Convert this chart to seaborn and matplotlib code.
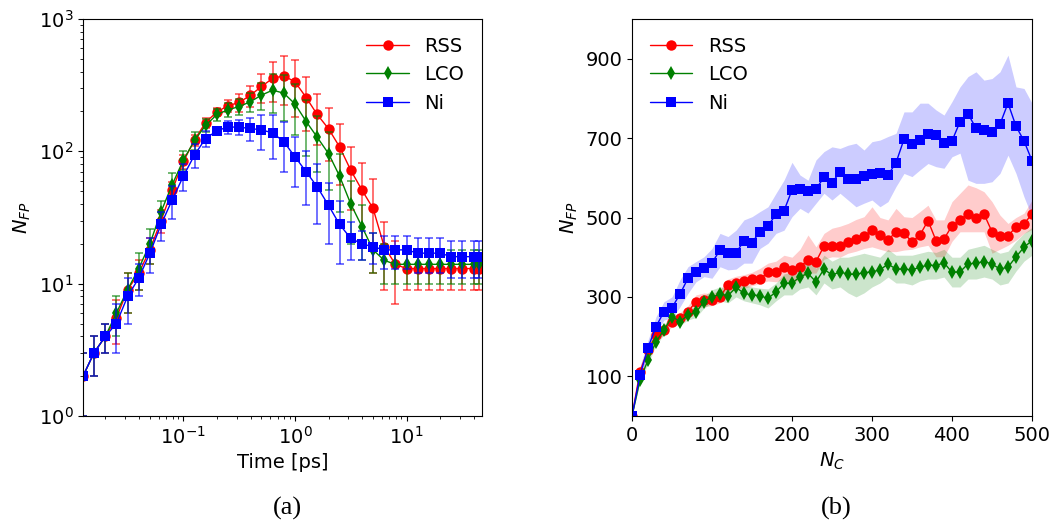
import matplotlib
matplotlib.use("Agg")
import matplotlib.pyplot as plt
import seaborn as sns
import numpy as np
import pandas as pd

# ---------------- Panel (a) data ----------------
time_ps = [0.0126, 0.0158, 0.02, 0.0251, 0.0316, 0.0398, 0.0501, 0.0631, 0.0794, 0.1,
           0.126, 0.158, 0.2, 0.251, 0.316, 0.398, 0.501, 0.631, 0.794, 1.0,
           1.26, 1.58, 2.0, 2.51, 3.16, 3.98, 5.01, 6.31, 7.94, 10.0,
           12.6, 15.8, 20.0, 25.1, 31.6, 39.8, 44.7]
rss_t = [2, 3, 4, 5.5, 9, 12, 18, 30, 51, 84,
         122, 165, 199, 221, 234, 265, 309, 356, 372, 335,
         255, 190, 148, 108, 72, 51, 37, 19, 14, 13,
         13, 13, 13, 13, 13, 13, 13]
rss_t_err = [1, 1, 1, 2, 3, 3, 4, 6, 8, 10,
             12, 15, 14, 22, 35, 48, 76, 120, 150, 154,
             112, 79, 63, 52, 36, 30, 25, 10, 7, 4,
             4, 4, 4, 4, 4, 4, 4]
lco_t = [2, 3, 4, 6, 9, 13, 20, 35, 56, 86,
         121, 157, 190, 206, 218, 237, 266, 290, 275, 228,
         168, 128, 96, 65, 40, 27, 18, 15, 14, 14,
         14, 14, 14, 14, 14, 14, 14]
lco_t_err = [1, 1, 1, 2, 3, 4, 6, 7, 12, 14,
             18, 18, 20, 25, 30, 40, 60, 95, 105, 95,
             75, 58, 45, 30, 20, 12, 6, 5, 4, 4,
             4, 4, 4, 4, 4, 4, 4]
ni_t = [2, 3, 4, 5, 8, 11, 17, 28, 43, 65,
        94, 125, 143, 153, 152, 149, 145, 138, 118, 91,
        70, 54, 39, 28, 22, 20, 19, 18, 18, 18,
        17, 17, 17, 16, 16, 16, 16]
ni_t_err = [1, 1, 1, 2, 3, 3, 5, 7, 12, 15,
            19, 17, 10, 18, 20, 29, 43, 50, 48, 37,
            31, 26, 19, 14, 7, 5, 5, 5, 5, 5,
            5, 5, 5, 5, 5, 5, 5]

# ---------------- Panel (b) data ----------------
n_c = list(range(0, 501, 10))
rss_n = [0, 112, 166, 204, 217, 238, 246, 263, 288, 292,
         292, 300, 330, 336, 340, 346, 344, 363, 363, 376,
         368, 376, 393, 389, 428, 428, 428, 439, 446, 453,
         468, 456, 443, 464, 460, 439, 456, 492, 442, 446,
         479, 494, 509, 500, 509, 464, 453, 453, 477, 484,
         509]
rss_lo = [0, 100, 155, 190, 205, 225, 232, 248, 270, 275,
          278, 285, 312, 318, 322, 328, 334, 340, 338, 345,
          334, 345, 360, 360, 395, 401, 400, 410, 415, 422,
          426, 420, 414, 414, 418, 420, 426, 430, 401, 401,
          440, 464, 464, 464, 464, 410, 420, 430, 443, 460,
          470]
rss_hi = [0, 125, 178, 212, 230, 252, 260, 278, 305, 310,
          308, 318, 345, 352, 356, 362, 372, 385, 390, 405,
          400, 420, 456, 426, 460, 473, 478, 485, 495, 502,
          527, 500, 494, 523, 502, 500, 515, 531, 494, 494,
          540, 561, 582, 575, 565, 540, 506, 485, 500, 511,
          544]
lco_n = [0, 91, 141, 187, 217, 250, 238, 254, 261, 288,
         300, 307, 303, 324, 309, 305, 303, 296, 313, 334,
         334, 351, 359, 338, 370, 355, 363, 357, 357, 361,
         363, 368, 383, 370, 370, 368, 375, 380, 379, 386,
         362, 363, 383, 385, 389, 383, 370, 375, 401, 425,
         442]
lco_lo = [0, 85, 132, 178, 205, 238, 228, 242, 248, 272,
          285, 290, 285, 300, 290, 285, 280, 272, 290, 305,
          305, 320, 325, 305, 335, 320, 325, 310, 300, 310,
          325, 335, 350, 335, 335, 330, 340, 345, 345, 350,
          325, 325, 345, 345, 350, 345, 330, 335, 365, 390,
          405]
lco_hi = [0, 98, 150, 198, 228, 262, 250, 268, 276, 302,
          318, 325, 322, 345, 330, 325, 322, 320, 335, 358,
          362, 380, 392, 372, 405, 390, 400, 400, 405, 410,
          405, 400, 420, 405, 405, 405, 410, 415, 412, 420,
          400, 400, 420, 425, 430, 420, 410, 415, 440, 460,
          475]
ni_n = [0, 103, 172, 225, 263, 273, 307, 347, 363, 372,
        386, 418, 410, 410, 442, 437, 464, 479, 508, 517,
        569, 572, 568, 572, 601, 588, 614, 597, 597, 605,
        610, 613, 607, 638, 697, 684, 695, 710, 708, 688,
        693, 741, 761, 725, 720, 716, 735, 788, 730, 693,
        643]
ni_lo = [0, 88, 158, 208, 242, 246, 275, 309, 338, 351,
         347, 376, 368, 370, 385, 385, 422, 435, 460, 468,
         502, 523, 511, 536, 561, 544, 561, 544, 527, 536,
         544, 527, 540, 578, 611, 603, 620, 636, 628, 624,
         653, 662, 594, 586, 586, 590, 611, 657, 611, 552,
         502]
ni_hi = [0, 124, 191, 250, 288, 300, 343, 376, 389, 401,
         422, 460, 452, 468, 494, 502, 515, 527, 561, 594,
         639, 607, 594, 645, 666, 678, 674, 682, 687, 670,
         691, 695, 704, 712, 766, 766, 788, 788, 771, 758,
         792, 829, 855, 867, 846, 850, 867, 909, 829, 825,
         788]

labels = ["RSS", "LCO", "Ni"]
colors = ["red", "green", "blue"]
markers = ["o", "d", "s"]

sns.set_style("ticks", {"axes.edgecolor": "black", "xtick.color": "black",
                        "ytick.color": "black", "text.color": "black",
                        "axes.labelcolor": "black"})
plt.rcParams["font.family"] = ["DejaVu Sans"]
plt.rcParams["mathtext.fontset"] = "dejavusans"

FS = 14
fig = plt.figure(figsize=(10.55, 5.24), dpi=100)
axa = fig.add_axes([83 / 1055, 108 / 524, 399 / 1055, 397 / 524])
axb = fig.add_axes([632 / 1055, 108 / 524, 400 / 1055, 397 / 524])

# ---- panel (a)
series_a = [(rss_t, rss_t_err), (lco_t, lco_t_err), (ni_t, ni_t_err)]
for (vals, err), lab, col, mk in zip(series_a, labels, colors, markers):
    df = pd.DataFrame({"t": time_ps, "n": vals})
    axa.errorbar(time_ps, vals, yerr=err, fmt="none", ecolor=col, elinewidth=1.2,
                 capsize=3, capthick=1.2, alpha=0.65)
    sns.lineplot(data=df, x="t", y="n", ax=axa, color=col, marker=mk,
                 markersize=7.5, markeredgewidth=0, linewidth=1, label=lab,
                 errorbar=None, sort=False)
axa.set_xscale("log")
axa.set_yscale("log")
axa.set_xlim(time_ps[0], 47.4)
axa.set_ylim(1, 1000)
axa.set_xlabel("Time [ps]", fontsize=FS)
axa.set_ylabel(r"$N_{FP}$", fontsize=FS)
axa.tick_params(labelsize=FS)
axa.legend(loc="upper right", frameon=False, fontsize=FS, handlelength=2.2,
           borderaxespad=0.5)

# ---- panel (b)
series_b = [(rss_n, rss_lo, rss_hi), (lco_n, lco_lo, lco_hi), (ni_n, ni_lo, ni_hi)]
for (vals, lo, hi), lab, col, mk in zip(series_b, labels, colors, markers):
    df = pd.DataFrame({"nc": n_c, "n": vals})
    axb.fill_between(n_c, lo, hi, color=col, alpha=0.2, linewidth=0)
    sns.lineplot(data=df, x="nc", y="n", ax=axb, color=col, marker=mk,
                 markersize=7.5, markeredgewidth=0, linewidth=1, label=lab,
                 errorbar=None, sort=False)
axb.set_xlim(0, 500)
axb.set_ylim(0, 1000)
axb.set_xticks([0, 100, 200, 300, 400, 500])
axb.set_yticks([100, 300, 500, 700, 900])
axb.set_xlabel(r"$N_C$", fontsize=FS)
axb.set_ylabel(r"$N_{FP}$", fontsize=FS)
axb.tick_params(labelsize=FS)
axb.legend(loc="upper left", frameon=False, fontsize=FS, handlelength=2.2,
           borderaxespad=0.5)

fig.text(287 / 1055, 1 - 508 / 524, "(a)", family="Liberation Serif", fontsize=19,
         ha="center", va="center")
fig.text(836 / 1055, 1 - 508 / 524, "(b)", family="Liberation Serif", fontsize=19,
         ha="center", va="center")

fig.savefig("out.png", dpi=100)
